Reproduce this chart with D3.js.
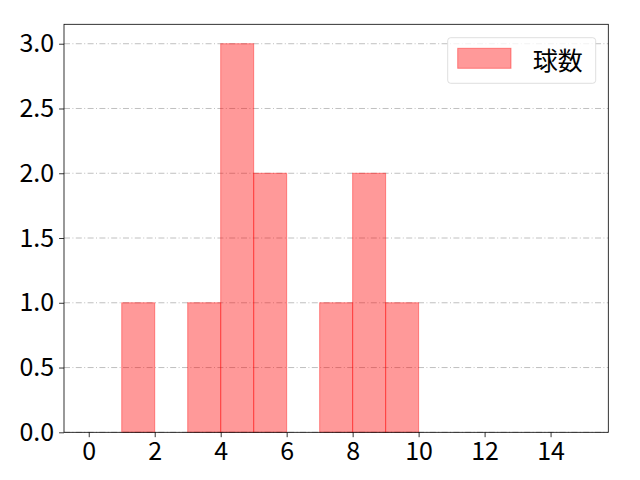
<!DOCTYPE html>
<html>
<head>
<meta charset="utf-8">
<title>球数</title>
<script src="https://d3js.org/d3.v7.min.js"></script>
<style>
  body { margin: 0; background: #fff; }
  text { font-family: "Noto Sans CJK JP", sans-serif; }
</style>
</head>
<body>
<svg width="640" height="480"></svg>
<script>
// bin edges and counts
const binStarts = [0, 1, 2, 3, 4, 5, 6, 7, 8, 9, 10, 11, 12, 13, 14];
const binWidth = 1;
const counts = [0, 1, 0, 1, 3, 2, 0, 1, 2, 1, 0, 0, 0, 0, 0];
const xTicks = [0, 2, 4, 6, 8, 10, 12, 14];
const yTicks = [0, 0.5, 1.0, 1.5, 2.0, 2.5, 3.0];
const seriesName = "球数";

const margin = { top: 24.3, right: 31.7, bottom: 47.7, left: 64 };
const width = 640 - margin.left - margin.right;
const height = 480 - margin.top - margin.bottom;

const svg = d3.select('svg');
const g = svg.append('g')
  .attr('transform', `translate(${margin.left},${margin.top})`);

const x = d3.scaleLinear().domain([-0.75, 15.75]).range([0, width]);
const y = d3.scaleLinear().domain([0, 3.15]).range([height, 0]);

// grid
g.append('g')
  .selectAll('line')
  .data(yTicks)
  .join('line')
  .attr('x1', 0).attr('x2', width)
  .attr('y1', d => y(d)).attr('y2', d => y(d))
  .attr('stroke', '#b0b0b0')
  .attr('stroke-width', 0.8)
  .attr('stroke-dasharray', '6,2.4,1,2.4');

// bars
const bins = binStarts.map((s, i) => ({ x0: s, x1: s + binWidth, n: counts[i] }))
  .filter(d => d.n > 0);
g.append('g')
  .selectAll('rect')
  .data(bins)
  .join('rect')
  .attr('x', d => x(d.x0))
  .attr('width', d => x(d.x1) - x(d.x0))
  .attr('y', d => y(d.n))
  .attr('height', d => y(0) - y(d.n))
  .attr('fill', 'red').attr('fill-opacity', 0.4)
  .attr('stroke', 'red').attr('stroke-opacity', 0.4)
  .attr('stroke-width', 1);

// axes
const xAxis = g.append('g')
  .attr('transform', `translate(0,${height})`)
  .call(d3.axisBottom(x).tickValues(xTicks).tickFormat(d3.format('d')).tickSize(4.9).tickPadding(5));
const yAxis = g.append('g')
  .call(d3.axisLeft(y).tickValues(yTicks).tickFormat(d3.format('.1f')).tickSize(4.9).tickPadding(5));
[xAxis, yAxis].forEach(a => {
  a.select('.domain').remove();
  a.selectAll('line').attr('stroke', '#000').attr('stroke-width', 0.8);
  a.selectAll('text').attr('fill', '#000').style('font-size', '25px');
});

// frame
g.append('rect')
  .attr('width', width).attr('height', height)
  .attr('fill', 'none').attr('stroke', '#000').attr('stroke-width', 0.8);

// legend
const lg = svg.append('g').attr('transform', 'translate(447.7,37.7)');
lg.append('rect')
  .attr('width', 148).attr('height', 45.6).attr('rx', 3)
  .attr('fill', '#fff').attr('fill-opacity', 0.8)
  .attr('stroke', '#d5d5d5').attr('stroke-width', 0.8);
lg.append('rect')
  .attr('x', 10).attr('y', 10.6).attr('width', 53.3).attr('height', 20)
  .attr('fill', 'red').attr('fill-opacity', 0.4)
  .attr('stroke', 'red').attr('stroke-opacity', 0.4);
lg.append('text')
  .attr('x', 85).attr('y', 21)
  .attr('dominant-baseline', 'central')
  .style('font-size', '25px')
  .text(seriesName);
</script>
</body>
</html>
